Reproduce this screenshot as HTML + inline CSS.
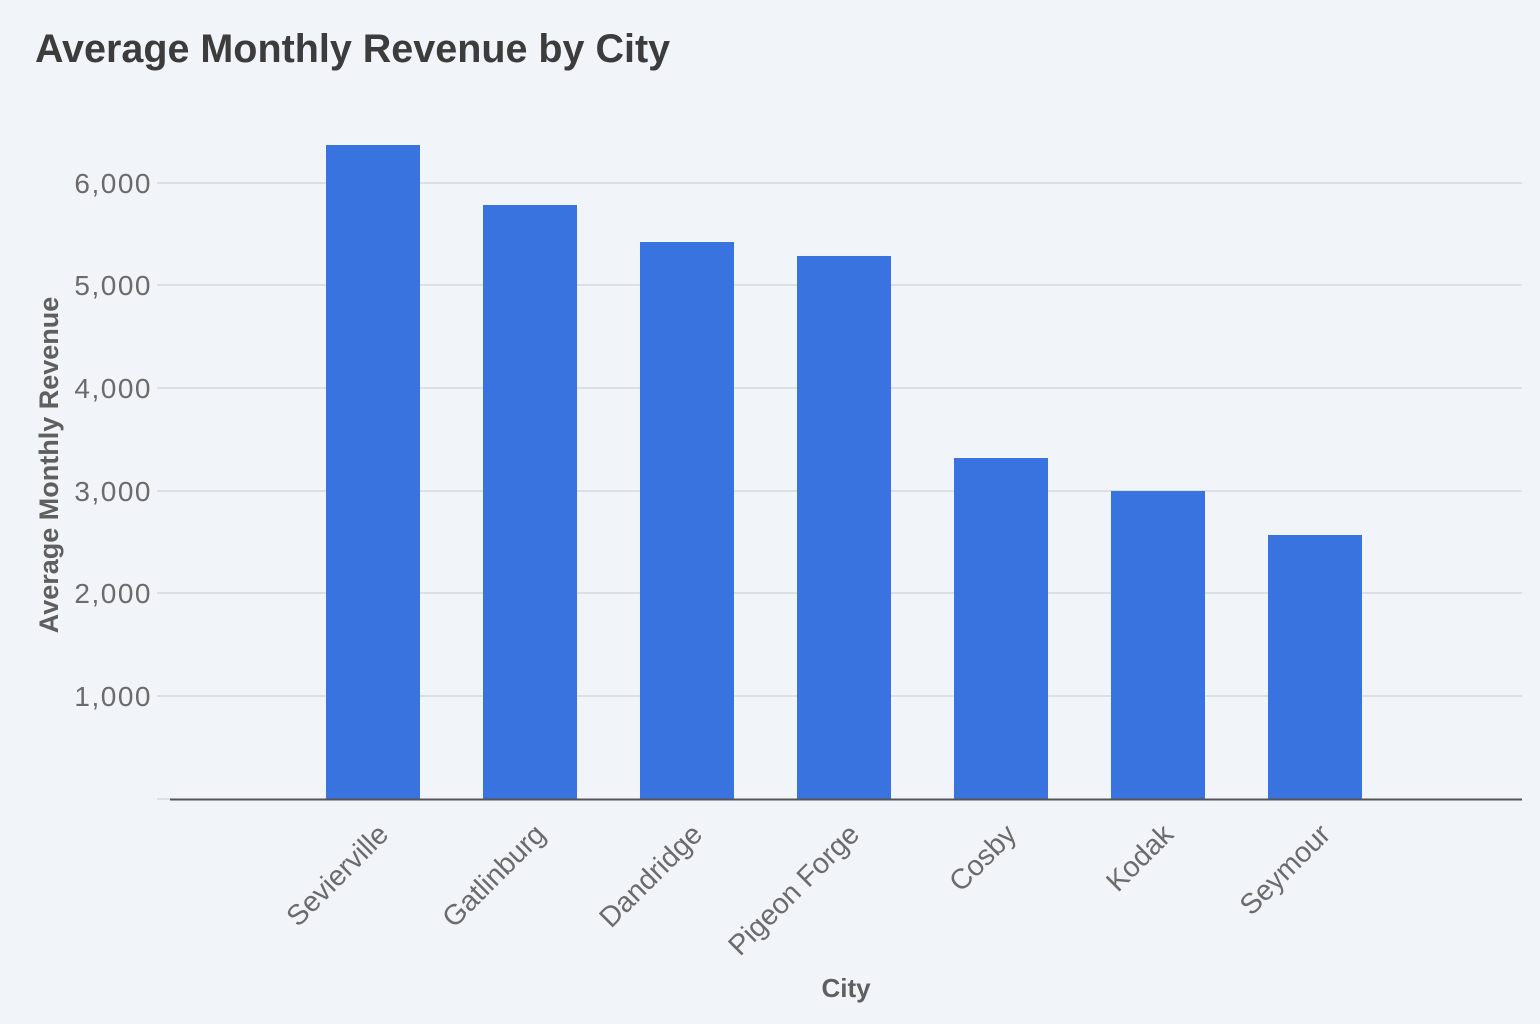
<!DOCTYPE html>
<html><head><style>
html,body{margin:0;padding:0;background:#f1f4f9;}
svg{display:block}
</style></head><body>
<svg width="1540" height="1024" xmlns="http://www.w3.org/2000/svg" font-family="Liberation Sans, sans-serif">
<rect width="1540" height="1024" fill="#f1f4f9"/>
<text x="35" y="62" font-size="39.5" font-weight="bold" fill="#3c3c3c">Average Monthly Revenue by City</text>
<g stroke="#d6d9de" stroke-width="1.5">
<line x1="157" x2="1522" y1="183" y2="183"/>
<line x1="157" x2="1522" y1="285" y2="285"/>
<line x1="157" x2="1522" y1="388" y2="388"/>
<line x1="157" x2="1522" y1="491" y2="491"/>
<line x1="157" x2="1522" y1="593" y2="593"/>
<line x1="157" x2="1522" y1="696" y2="696"/>
<line x1="157" x2="170" y1="799" y2="799"/>
</g>
<g font-size="28" fill="#6b6b6b" text-anchor="end" letter-spacing="1.5">
<text x="152" y="193">6,000</text>
<text x="152" y="295">5,000</text>
<text x="152" y="398">4,000</text>
<text x="152" y="501">3,000</text>
<text x="152" y="603">2,000</text>
<text x="152" y="706">1,000</text>
</g>
<text transform="translate(58,465) rotate(-90)" font-size="27" font-weight="bold" fill="#5f5f5f" text-anchor="middle">Average Monthly Revenue</text>
<g fill="#3873e0">
<rect x="326" y="145" width="94" height="654"/>
<rect x="483" y="205" width="94" height="594"/>
<rect x="640" y="242" width="94" height="557"/>
<rect x="797" y="256" width="94" height="543"/>
<rect x="954" y="458" width="94" height="341"/>
<rect x="1111" y="491" width="94" height="308"/>
<rect x="1268" y="535" width="94" height="264"/>
</g>
<line x1="170" x2="1522" y1="799.5" y2="799.5" stroke="#555" stroke-width="2"/>
<g font-size="28.5" fill="#6b6b6b" text-anchor="end">
<text transform="translate(390,836) rotate(-45)">Sevierville</text>
<text transform="translate(547,836) rotate(-45)">Gatlinburg</text>
<text transform="translate(704,836) rotate(-45)">Dandridge</text>
<text transform="translate(861,836) rotate(-45)">Pigeon Forge</text>
<text transform="translate(1018,836) rotate(-45)">Cosby</text>
<text transform="translate(1175,836) rotate(-45)">Kodak</text>
<text transform="translate(1332,836) rotate(-45)">Seymour</text>
</g>
<text x="846" y="997" font-size="26" font-weight="bold" fill="#5f5f5f" text-anchor="middle">City</text>
</svg>
</body></html>
